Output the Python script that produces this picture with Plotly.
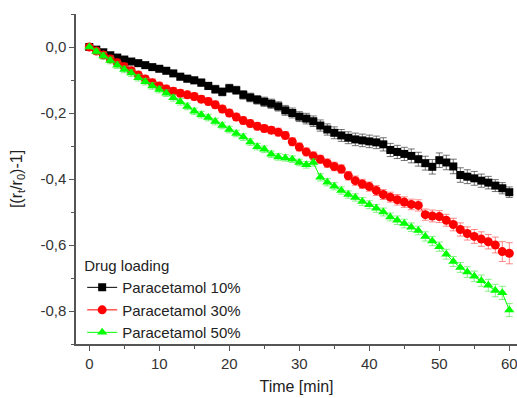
import plotly.graph_objects as go

time_min = list(range(0, 61))

p10 = [0, -0.008, -0.016, -0.025, -0.032, -0.038, -0.044, -0.049, -0.055, -0.061,
       -0.066, -0.072, -0.080, -0.090, -0.096, -0.101, -0.108, -0.118, -0.128, -0.136,
       -0.125, -0.131, -0.145, -0.153, -0.160, -0.166, -0.172, -0.180, -0.192, -0.200,
       -0.211, -0.217, -0.225, -0.238, -0.250, -0.260, -0.268, -0.275, -0.280, -0.283,
       -0.286, -0.289, -0.295, -0.312, -0.318, -0.324, -0.330, -0.340, -0.352, -0.363,
       -0.343, -0.350, -0.362, -0.388, -0.393, -0.398, -0.405, -0.411, -0.420, -0.428,
       -0.440]
p10_err = [0, 0.004, 0.005, 0.005, 0.006, 0.006, 0.007, 0.007, 0.008, 0.008,
           0.008, 0.009, 0.009, 0.010, 0.010, 0.010, 0.011, 0.011, 0.012, 0.012,
           0.012, 0.012, 0.013, 0.013, 0.013, 0.014, 0.014, 0.014, 0.015, 0.015,
           0.015, 0.016, 0.016, 0.017, 0.017, 0.018, 0.018, 0.018, 0.019, 0.019,
           0.019, 0.019, 0.020, 0.020, 0.020, 0.020, 0.021, 0.021, 0.021, 0.022,
           0.022, 0.022, 0.022, 0.022, 0.021, 0.021, 0.020, 0.019, 0.018, 0.017,
           0.016]

p30 = [0, -0.012, -0.024, -0.036, -0.048, -0.060, -0.072, -0.085, -0.097, -0.108,
       -0.118, -0.127, -0.134, -0.140, -0.145, -0.150, -0.158, -0.165, -0.175, -0.188,
       -0.200, -0.212, -0.223, -0.232, -0.240, -0.247, -0.252, -0.258, -0.268, -0.287,
       -0.303, -0.318, -0.330, -0.340, -0.352, -0.362, -0.370, -0.390, -0.405, -0.415,
       -0.423, -0.435, -0.447, -0.455, -0.463, -0.470, -0.477, -0.480, -0.508, -0.512,
       -0.514, -0.525, -0.538, -0.553, -0.565, -0.574, -0.582, -0.590, -0.600, -0.620,
       -0.625]
p30_err = [0, 0.008, 0.010, 0.010, 0.011, 0.011, 0.011, 0.011, 0.011, 0.011,
           0.011, 0.011, 0.011, 0.011, 0.011, 0.011, 0.011, 0.011, 0.011, 0.011,
           0.011, 0.011, 0.011, 0.011, 0.011, 0.011, 0.011, 0.012, 0.012, 0.012,
           0.012, 0.012, 0.012, 0.012, 0.013, 0.013, 0.013, 0.013, 0.014, 0.014,
           0.014, 0.015, 0.015, 0.015, 0.016, 0.016, 0.016, 0.017, 0.017, 0.018,
           0.018, 0.018, 0.019, 0.020, 0.020, 0.021, 0.022, 0.022, 0.024, 0.030,
           0.032]

p50 = [0, -0.014, -0.027, -0.041, -0.055, -0.068, -0.079, -0.093, -0.105, -0.118,
       -0.129, -0.140, -0.154, -0.166, -0.180, -0.195, -0.205, -0.214, -0.226, -0.238,
       -0.250, -0.262, -0.273, -0.288, -0.302, -0.310, -0.325, -0.333, -0.336, -0.340,
       -0.350, -0.357, -0.350, -0.395, -0.410, -0.422, -0.435, -0.447, -0.456, -0.468,
       -0.478, -0.489, -0.500, -0.515, -0.525, -0.535, -0.546, -0.556, -0.574, -0.588,
       -0.605, -0.628, -0.650, -0.668, -0.682, -0.695, -0.708, -0.722, -0.738, -0.745,
       -0.797]
p50_err = [0, 0.008, 0.010, 0.010, 0.010, 0.010, 0.010, 0.010, 0.010, 0.010,
           0.010, 0.010, 0.010, 0.010, 0.010, 0.010, 0.010, 0.010, 0.010, 0.010,
           0.010, 0.010, 0.010, 0.010, 0.010, 0.010, 0.010, 0.010, 0.010, 0.010,
           0.010, 0.010, 0.011, 0.011, 0.011, 0.011, 0.011, 0.011, 0.011, 0.012,
           0.012, 0.012, 0.012, 0.012, 0.013, 0.013, 0.013, 0.013, 0.014, 0.014,
           0.014, 0.015, 0.015, 0.015, 0.016, 0.016, 0.017, 0.018, 0.019, 0.020,
           0.020]

series_names = ["Paracetamol 10%", "Paracetamol 30%", "Paracetamol 50%"]
y_ticks = [0.0, -0.2, -0.4, -0.6, -0.8]
y_tick_labels = ["0,0", "-0,2", "-0,4", "-0,6", "-0,8"]
x_ticks = [0, 10, 20, 30, 40, 50, 60]

FONT = "Liberation Sans, Arial, sans-serif"

fig = go.Figure()
specs = [
    (p10, p10_err, "#000000", "rgba(70,70,70,0.75)", "square", 8),
    (p30, p30_err, "#ff0000", "rgba(255,60,60,0.6)", "circle", 9),
    (p50, p50_err, "#00ff00", "rgba(60,230,60,0.6)", "triangle-up", 9),
]
for name, (vals, err, col, ecol, sym, sz) in zip(series_names, specs):
    fig.add_trace(go.Scatter(
        x=time_min, y=vals, name=name, mode="lines+markers",
        line=dict(color=col, width=1),
        marker=dict(color=col, symbol=sym, size=sz, line=dict(width=0)),
        error_y=dict(type="data", array=err, visible=True, color=ecol,
                     thickness=1, width=3.5),
    ))

axis_common = dict(
    showline=True, linecolor="#555555", linewidth=1.5, mirror=False,
    ticks="outside", ticklen=5, tickwidth=1, tickcolor="#555555",
    showgrid=False, zeroline=False, ticklabeloverflow="allow",
    tickfont=dict(family=FONT, size=15, color="#333333"),
)

fig.update_layout(
    width=517, height=398,
    margin=dict(l=76, r=0, t=14, b=54),
    paper_bgcolor="white", plot_bgcolor="white",
    font=dict(family=FONT, size=15, color="#222222"),
    xaxis=dict(
        range=[-1.9, 61.1], tickvals=x_ticks,
        minor=dict(dtick=5, tick0=0, ticks="outside", ticklen=3, tickcolor="#555555"),
        title=dict(text="Time [min]", font=dict(size=16), standoff=10),
        **axis_common,
    ),
    yaxis=dict(
        range=[-0.9, 0.1], tickvals=y_ticks, ticktext=y_tick_labels,
        minor=dict(dtick=0.1, tick0=0, ticks="outside", ticklen=3, tickcolor="#555555"),
        title=dict(text="[(r<sub>t</sub>/r<sub>0</sub>)-1]", font=dict(size=16), standoff=14),
        **axis_common,
    ),
    legend=dict(
        x=0.014, y=0.28, xanchor="left", yanchor="top",
        title=dict(text="Drug loading", font=dict(size=15)),
        bgcolor="rgba(255,255,255,0)", font=dict(size=15),
        tracegroupgap=0, itemwidth=30,
    ),
    showlegend=True,
)

fig.write_html("out.html")
